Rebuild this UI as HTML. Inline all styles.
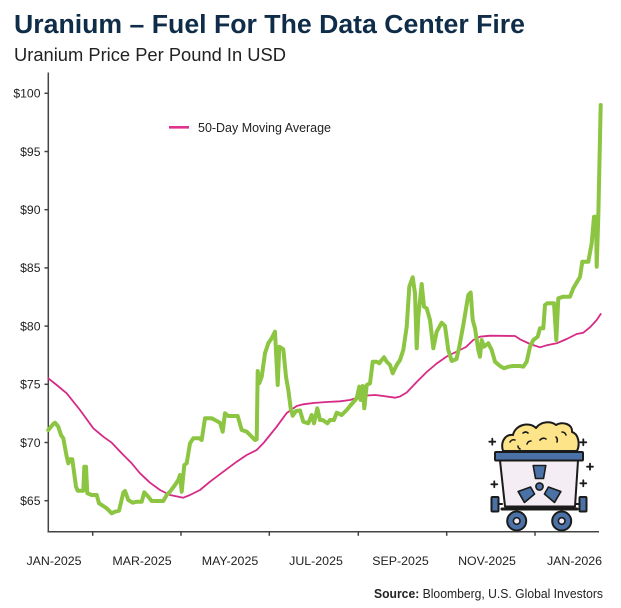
<!DOCTYPE html>
<html>
<head>
<meta charset="utf-8">
<style>
  html,body{margin:0;padding:0;background:#fff;}
  svg{display:block;}
  text{font-family:"Liberation Sans", sans-serif;}
</style>
</head>
<body>
<svg width="621" height="608" viewBox="0 0 621 608" xmlns="http://www.w3.org/2000/svg">
  <rect width="621" height="608" fill="#ffffff"/>

  <!-- Title -->
  <text x="14" y="33" font-size="25.5" font-weight="bold" fill="#0f2d48" textLength="511" lengthAdjust="spacingAndGlyphs">Uranium – Fuel For The Data Center Fire</text>
  <text x="14" y="61" font-size="18.5" fill="#222" textLength="272" lengthAdjust="spacingAndGlyphs">Uranium Price Per Pound In USD</text>

  <!-- Axes -->
  <g stroke="#444" stroke-width="1.5" fill="none">
    <line x1="48.3" y1="72.5" x2="48.3" y2="532.5"/>
    <line x1="47.5" y1="531.8" x2="599" y2="531.8"/>
    <line x1="44.5" y1="93.3" x2="48" y2="93.3"/>
    <line x1="44.5" y1="151.5" x2="48" y2="151.5"/>
    <line x1="44.5" y1="209.7" x2="48" y2="209.7"/>
    <line x1="44.5" y1="267.9" x2="48" y2="267.9"/>
    <line x1="44.5" y1="326.1" x2="48" y2="326.1"/>
    <line x1="44.5" y1="384.3" x2="48" y2="384.3"/>
    <line x1="44.5" y1="442.5" x2="48" y2="442.5"/>
    <line x1="44.5" y1="500.7" x2="48" y2="500.7"/>
    <line x1="92.7" y1="532" x2="92.7" y2="535.8"/>
    <line x1="181" y1="532" x2="181" y2="535.8"/>
    <line x1="269.3" y1="532" x2="269.3" y2="535.8"/>
    <line x1="358.3" y1="532" x2="358.3" y2="535.8"/>
    <line x1="446.7" y1="532" x2="446.7" y2="535.8"/>
    <line x1="535" y1="532" x2="535" y2="535.8"/>
  </g>

  <!-- Y labels -->
  <g font-size="12.2" fill="#222" text-anchor="end">
    <text x="40.5" y="97.6">$100</text>
    <text x="40.5" y="155.8">$95</text>
    <text x="40.5" y="214">$90</text>
    <text x="40.5" y="272.2">$85</text>
    <text x="40.5" y="330.4">$80</text>
    <text x="40.5" y="388.6">$75</text>
    <text x="40.5" y="446.8">$70</text>
    <text x="40.5" y="505">$65</text>
  </g>

  <!-- X labels -->
  <g font-size="12.4" fill="#222" text-anchor="middle">
    <text x="54" y="565">JAN-2025</text>
    <text x="142" y="565">MAR-2025</text>
    <text x="230" y="565">MAY-2025</text>
    <text x="316" y="565">JUL-2025</text>
    <text x="400.5" y="565">SEP-2025</text>
    <text x="487" y="565">NOV-2025</text>
    <text x="574.5" y="565">JAN-2026</text>
  </g>

  <!-- Legend -->
  <line x1="169" y1="127.3" x2="189" y2="127.3" stroke="#e0338d" stroke-width="2.6"/>
  <text x="198" y="132" font-size="12.5" fill="#222" textLength="133" lengthAdjust="spacingAndGlyphs">50-Day Moving Average</text>

  <!-- Moving average -->
  <polyline fill="none" stroke="#d62a86" stroke-width="1.8" stroke-linejoin="round" stroke-linecap="round"
    points="48.3,378.3 56.7,385 66.7,393.3 80,410 93.3,428.3 103.3,436.7 111.7,442.7 121.7,453.3 131.7,463.3 140,473.3 150,482.7 160,490 170,495 183.3,497.7 190,495 200,490 210,481.7 223.3,471.7 236.7,461.7 246.7,455 256.7,450 263.3,443.3 270,435 276.7,426.7 286.7,413 296.7,406 303.3,404.3 313.3,403 326.7,402 340,401.3 350,400 358,397.5 366.7,395.5 375,395 383.3,396 395,397.7 400,396.5 406.7,392.5 416.7,382 426.7,372 436.7,363.5 446.7,356.5 460,350 466,347 473.3,340 480,336.7 490,335.7 515,336 520,339.3 530,344 540,347.3 546.7,345.3 556.7,343.3 566.7,339 576.7,334 583.3,332.7 590,327.3 596.7,320 600.7,314"/>

  <!-- Price -->
  <polyline fill="none" stroke="#8cc541" stroke-width="4" stroke-linejoin="round" stroke-linecap="round"
    points="48.3,430 53.3,424 55,422.7 58.3,426.7 61,435 63.3,438.3 66.7,456.7 68.3,463.3 70,459.3 72.3,459.3 76,486.7 77.7,490.7 83.3,490.7 84.3,466.7 86,466.7 87.3,493.3 91.7,495 96.7,495 99,503.3 103.3,506 106.7,508.3 111.7,513.3 115,511.7 119,510.7 123.3,492.7 125,491 128.3,500 132.7,502.7 136.7,501.7 141.7,501.7 144.3,492.3 148.3,496.7 151.7,501 163.3,501 166.7,495 170,491.7 175,485 178.3,480 180,475 181.7,491.7 184.3,465 186.7,463.3 190,443.3 193.3,438.3 199.3,438.3 201.7,440 205,418.3 211.7,418.3 215,420 220,422.7 222.7,431.7 225,413.3 228.3,416 237.7,416 241.7,430 246.7,431.7 250,435 255,440 256.7,439.3 257.7,371 259.3,383.3 261.7,376.7 265,353.3 268.3,343.3 271.7,338.3 275,331.7 277.7,385 279.3,346.7 283.3,349.3 286,376.7 288.3,390 290.7,408.3 292.7,415.7 296,411 300,410.5 303.3,421.7 308.3,423.3 311.7,415 314,423.3 317.3,408.3 320,420 322.7,420 327.3,423.3 330,420 334,420 336.7,412.7 341.7,415 346.7,410 350,406 356.7,398.3 359.3,386.7 360.7,400 362.7,386 364.3,408.3 366.7,385 370,383.3 372.7,361.7 376.7,361.7 379.3,363.3 381.7,360 384,357.3 386.7,361.7 390,365 392.7,373.3 396.7,365 400,360 403.3,350 406.7,326.7 409.3,286.7 412.7,277.3 415,293.3 416.7,348.3 418.3,316.7 421.7,284 424,306.7 426.7,308.3 430,320 433.3,348.3 436.7,331.7 441.7,322.7 445,326 448.3,350 451.7,361 456.5,359 459.3,346.7 463.3,325 468.3,295 470.7,292.5 472.7,320 475,328.3 478.3,350 480,356.7 481.7,340 484,346.7 488.3,343.3 491.7,350 495,361.7 500,366 504,368.3 508.3,366.7 513.3,366 520,366 523.3,366.7 526.7,361.7 530,346.7 533.3,340 537.7,336.7 540,328.3 543.3,328.3 545,305 547.3,303.3 554,303.3 556.3,340 558.3,298.3 563.3,296.7 570,296.7 573.3,288.3 576.7,282.5 580,277 582.3,261.7 588.3,261.7 591.7,243.3 594,216.7 596,216.7 596.7,266.7 598.3,216.7 600.7,105"/>

  <!-- Cart icon -->
  <g stroke="#1b1b1b" stroke-width="2" stroke-linejoin="round" stroke-linecap="round">
    <path d="M503,451 C500,441 506,434 513,435 C515,425 529,421 536,428 C541,421 551,421 556,425 C562,421 573,424 572,432 C579,434 580,445 577,451 Z" fill="#fde488"/>
    <g fill="none" stroke-width="1.6">
      <path d="M510,442 q2,-3 5,-2"/>
      <path d="M523,433 q3,-2 5,0"/>
      <path d="M527,444 q1,-3 4,-3"/>
      <path d="M540,440 q3,-3 6,-1"/>
      <path d="M556,437 q2,2 1,5"/>
      <path d="M562,432 q3,0 4,3"/>
      <path d="M518,446 q0,2 2,3"/>
    </g>
    <polygon points="500,460.5 578,460.5 575,506.5 505,506.5" fill="#f4eef4"/>
    <rect x="495" y="452" width="88" height="8.5" rx="1" fill="#4a72a6"/>
    <g transform="translate(539.5,486.5)" fill="#4a72a6" stroke-width="1.6">
      <polygon points="-4,-8 4,-8 6.3,-21 -6.3,-21"/>
      <polygon points="-4,-8 4,-8 6.3,-21 -6.3,-21" transform="rotate(120)"/>
      <polygon points="-4,-8 4,-8 6.3,-21 -6.3,-21" transform="rotate(240)"/>
      <circle cx="0" cy="0" r="3.6"/>
    </g>
    <rect x="491.5" y="497" width="7" height="14.5" rx="1" fill="#4a72a6"/>
    <rect x="579.5" y="497" width="7" height="14.5" rx="1" fill="#4a72a6"/>
    <line x1="498.5" y1="504" x2="502" y2="504"/>
    <line x1="576" y1="504" x2="579.5" y2="504"/>
    <line x1="502" y1="509" x2="577" y2="509" stroke-width="3"/>
    <circle cx="516.7" cy="521" r="9.5" fill="#4a72a6"/>
    <circle cx="516.7" cy="521" r="3.3" fill="#f4eef4" stroke-width="1.6"/>
    <circle cx="561.7" cy="521" r="9.5" fill="#4a72a6"/>
    <circle cx="561.7" cy="521" r="3.3" fill="#f4eef4" stroke-width="1.6"/>
    <g stroke-width="1.8">
      <path d="M489.3,441.7 h6 M492.3,438.7 v6"/>
      <path d="M580.3,442.3 h6 M583.3,439.3 v6"/>
      <path d="M587,466.7 h6 M590,463.7 v6"/>
      <path d="M491.3,484.3 h6 M494.3,481.3 v6"/>
      <path d="M580.3,483.3 h6 M583.3,480.3 v6"/>
    </g>
  </g>

  <!-- Source -->
  <text x="374" y="598" font-size="12.8" fill="#222" textLength="229" lengthAdjust="spacingAndGlyphs"><tspan font-weight="bold">Source:</tspan> Bloomberg, U.S. Global Investors</text>
</svg>
</body>
</html>
